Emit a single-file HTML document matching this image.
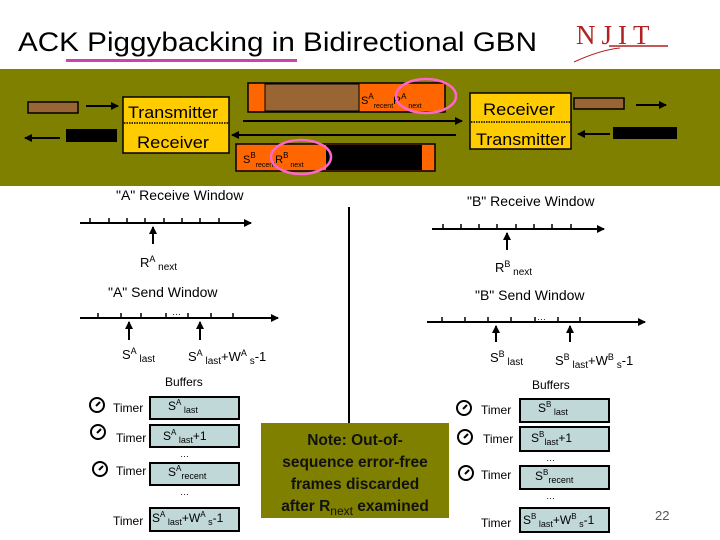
<!DOCTYPE html>
<html><head><meta charset="utf-8"><style>
html,body{margin:0;padding:0;background:#fff;}
svg{display:block;font-family:"Liberation Sans",sans-serif;}
</style></head><body>
<svg width="720" height="540" viewBox="0 0 720 540" xmlns="http://www.w3.org/2000/svg">
<defs>
<marker id="ar" markerWidth="8" markerHeight="8" refX="7" refY="4" orient="auto" markerUnits="userSpaceOnUse"><path d="M0,0 L8,4 L0,8 z" fill="#000"/></marker>
</defs>
<text x="18" y="51" font-size="27" fill="#000" textLength="519" lengthAdjust="spacingAndGlyphs">ACK Piggybacking in Bidirectional GBN</text>
<rect x="66" y="59" width="231" height="3" fill="#cc44aa"/>
<text x="576" y="44" font-family="Liberation Serif,serif" font-size="27" fill="#b22222" letter-spacing="6">NJIT</text>
<line x1="609" y1="46" x2="668" y2="46" stroke="#b22222" stroke-width="1.5"/>
<path d="M574,62 Q600,50 620,48" stroke="#b22222" fill="none" stroke-width="1"/>
<rect x="0" y="69" width="720" height="117" fill="#7f7f00"/>
<rect x="28" y="102" width="50" height="11" fill="#996633" stroke="#000" stroke-width="1.5"/>
<line x1="86" y1="106" x2="118" y2="106" stroke="#000" stroke-width="2" marker-end="url(#ar)"/>
<rect x="66" y="129" width="51" height="13" fill="#000"/>
<line x1="60" y1="138" x2="25" y2="138" stroke="#000" stroke-width="2" marker-end="url(#ar)"/>
<rect x="123" y="97" width="106" height="56" fill="#ffcc00" stroke="#000" stroke-width="1.5"/>
<line x1="124" y1="123" x2="228" y2="123" stroke="#000" stroke-width="1.5" stroke-dasharray="1.5,1"/>
<text x="128" y="118" font-size="17" fill="#000" textLength="90" lengthAdjust="spacingAndGlyphs">Transmitter</text>
<text x="137" y="148" font-size="17" fill="#000" textLength="72" lengthAdjust="spacingAndGlyphs">Receiver</text>
<rect x="248" y="83" width="197" height="29" fill="#ff6600" stroke="#000" stroke-width="1.5"/>
<rect x="265" y="84" width="94" height="27" fill="#996633" stroke="#000" stroke-width="1"/>
<text x="361" y="104" font-size="11" fill="#000">S<tspan font-size="8" dy="-5">A</tspan><tspan font-size="7" dy="9">recent</tspan><tspan font-size="11" dy="-4">R</tspan><tspan font-size="8" dy="-5">A</tspan><tspan font-size="7" dy="9"> next</tspan></text>
<ellipse cx="426" cy="96" rx="30" ry="17" fill="none" stroke="#ff66cc" stroke-width="2.5"/>
<line x1="243" y1="121" x2="462" y2="121" stroke="#000" stroke-width="2" marker-end="url(#ar)"/>
<line x1="456" y1="135" x2="232" y2="135" stroke="#000" stroke-width="2" marker-end="url(#ar)"/>
<rect x="236" y="144" width="199" height="27" fill="#ff6600" stroke="#000" stroke-width="1.5"/>
<rect x="326" y="145" width="96" height="25" fill="#000"/>
<text x="243" y="163" font-size="11" fill="#000">S<tspan font-size="8" dy="-5">B</tspan><tspan font-size="7" dy="9">recent</tspan><tspan font-size="11" dy="-4">R</tspan><tspan font-size="8" dy="-5">B</tspan><tspan font-size="7" dy="9"> next</tspan></text>
<ellipse cx="301" cy="157" rx="30" ry="17" fill="none" stroke="#ff66cc" stroke-width="2.5"/>
<rect x="470" y="93" width="101" height="56" fill="#ffcc00" stroke="#000" stroke-width="1.5"/>
<line x1="471" y1="122" x2="570" y2="122" stroke="#000" stroke-width="1.5" stroke-dasharray="1.5,1"/>
<text x="483" y="115" font-size="17" fill="#000" textLength="72" lengthAdjust="spacingAndGlyphs">Receiver</text>
<text x="476" y="145" font-size="17" fill="#000" textLength="90" lengthAdjust="spacingAndGlyphs">Transmitter</text>
<rect x="574" y="98" width="50" height="11" fill="#996633" stroke="#000" stroke-width="1.5"/>
<line x1="636" y1="105" x2="666" y2="105" stroke="#000" stroke-width="2" marker-end="url(#ar)"/>
<line x1="610" y1="134" x2="578" y2="134" stroke="#000" stroke-width="2" marker-end="url(#ar)"/>
<rect x="613" y="127" width="64" height="12" fill="#000"/>
<g font-size="14" fill="#000">
<text x="116" y="200">"A" Receive Window</text>
<text x="108" y="297">"A" Send Window</text>
<text x="467" y="206">"B" Receive Window</text>
<text x="475" y="300">"B" Send Window</text>
</g>
<g stroke="#000" stroke-width="2">
<line x1="80" y1="223" x2="251" y2="223" marker-end="url(#ar)"/>
<path d="M90,223v-5M109,223v-5M127,223v-5M145,223v-5M164,223v-5M182,223v-5M200,223v-5M219,223v-5" stroke-width="1.5"/>
<line x1="153" y1="244" x2="153" y2="227" marker-end="url(#ar)"/>
<line x1="80" y1="318" x2="278" y2="318" marker-end="url(#ar)"/>
<path d="M98,318v-5M121,318v-5M141,318v-5M166,318v-5M188,318v-5M211,318v-5M233,318v-5" stroke-width="1.5"/>
<line x1="129" y1="340" x2="129" y2="322" marker-end="url(#ar)"/>
<line x1="200" y1="340" x2="200" y2="322" marker-end="url(#ar)"/>
<line x1="432" y1="229" x2="604" y2="229" marker-end="url(#ar)"/>
<path d="M443,229v-5M461,229v-5M479,229v-5M497,229v-5M516,229v-5M534,229v-5M552,229v-5M571,229v-5" stroke-width="1.5"/>
<line x1="507" y1="250" x2="507" y2="233" marker-end="url(#ar)"/>
<line x1="427" y1="322" x2="645" y2="322" marker-end="url(#ar)"/>
<path d="M442,322v-5M465,322v-5M488,322v-5M511,322v-5M535,322v-5M558,322v-5M580,322v-5" stroke-width="1.5"/>
<line x1="496" y1="342" x2="496" y2="326" marker-end="url(#ar)"/>
<line x1="570" y1="342" x2="570" y2="326" marker-end="url(#ar)"/>
<line x1="349" y1="207" x2="349" y2="424"/>
</g>
<g font-size="13" fill="#000">
<text x="172" y="315" font-size="9">…</text>
<text x="537" y="320" font-size="9">…</text>
<text x="140" y="267">R<tspan font-size="9" dy="-5">A</tspan><tspan font-size="10" dy="8"> next</tspan></text>
<text x="495" y="272">R<tspan font-size="9" dy="-5">B</tspan><tspan font-size="10" dy="8"> next</tspan></text>
<text x="122" y="359">S<tspan font-size="9" dy="-5">A</tspan><tspan font-size="10" dy="8"> last</tspan></text>
<text x="188" y="361">S<tspan font-size="9" dy="-5">A</tspan><tspan font-size="10" dy="8"> last</tspan><tspan dy="-3">+W</tspan><tspan font-size="9" dy="-5">A</tspan><tspan font-size="10" dy="8"> s</tspan><tspan dy="-3">-1</tspan></text>
<text x="490" y="362">S<tspan font-size="9" dy="-5">B</tspan><tspan font-size="10" dy="8"> last</tspan></text>
<text x="555" y="365">S<tspan font-size="9" dy="-5">B</tspan><tspan font-size="10" dy="8"> last</tspan><tspan dy="-3">+W</tspan><tspan font-size="9" dy="-5">B</tspan><tspan font-size="10" dy="8"> s</tspan><tspan dy="-3">-1</tspan></text>
<text x="165" y="386" font-size="12">Buffers</text>
<text x="532" y="389" font-size="12">Buffers</text>
</g>
<g fill="#c0d8d8" stroke="#000" stroke-width="2">
<rect x="150" y="397" width="89" height="22"/><rect x="150" y="425" width="89" height="22"/>
<rect x="150" y="463" width="89" height="22"/><rect x="150" y="508" width="89" height="23"/>
<rect x="520" y="399" width="89" height="23"/><rect x="520" y="427" width="89" height="24"/>
<rect x="520" y="466" width="89" height="23"/><rect x="520" y="508" width="89" height="24"/>
</g>
<g font-size="12" fill="#000">
<text x="113" y="412">Timer</text><text x="116" y="442">Timer</text><text x="116" y="475">Timer</text><text x="113" y="525">Timer</text>
<text x="481" y="414">Timer</text><text x="483" y="443">Timer</text><text x="481" y="479">Timer</text><text x="481" y="527">Timer</text>
<text x="168" y="410">S<tspan font-size="8" dy="-5">A</tspan><tspan font-size="9" dy="8"> last</tspan></text>
<text x="163" y="440">S<tspan font-size="8" dy="-5">A</tspan><tspan font-size="9" dy="8"> last</tspan><tspan dy="-3">+1</tspan></text>
<text x="168" y="476">S<tspan font-size="8" dy="-5">A</tspan><tspan font-size="9" dy="8">recent</tspan></text>
<text x="152" y="522">S<tspan font-size="8" dy="-5">A</tspan><tspan font-size="9" dy="8"> last</tspan><tspan dy="-3">+W</tspan><tspan font-size="8" dy="-5">A</tspan><tspan font-size="9" dy="8"> s</tspan><tspan dy="-3">-1</tspan></text>
<text x="538" y="412">S<tspan font-size="8" dy="-5">B</tspan><tspan font-size="9" dy="8"> last</tspan></text>
<text x="531" y="442">S<tspan font-size="8" dy="-5">B</tspan><tspan font-size="9" dy="8">last</tspan><tspan dy="-3">+1</tspan></text>
<text x="535" y="480">S<tspan font-size="8" dy="-5">B</tspan><tspan font-size="9" dy="8">recent</tspan></text>
<text x="523" y="524">S<tspan font-size="8" dy="-5">B</tspan><tspan font-size="9" dy="8"> last</tspan><tspan dy="-3">+W</tspan><tspan font-size="8" dy="-5">B</tspan><tspan font-size="9" dy="8"> s</tspan><tspan dy="-3">-1</tspan></text>
<text x="180" y="457" font-size="9">…</text><text x="180" y="495" font-size="9">…</text>
<text x="546" y="461" font-size="9">…</text><text x="546" y="499" font-size="9">…</text>
</g>
<g fill="none" stroke="#000" stroke-width="2">
<circle cx="97" cy="405" r="7"/><circle cx="98" cy="432" r="7"/><circle cx="100" cy="469" r="7"/>
<circle cx="464" cy="408" r="7"/><circle cx="465" cy="437" r="7"/><circle cx="466" cy="473" r="7"/>
<path d="M96,406l4,-4M97,433l4,-4M99,470l4,-4M463,409l4,-4M464,438l4,-4M465,474l4,-4"/>
</g>
<rect x="261" y="423" width="188" height="95" fill="#7f7f00"/>
<g font-size="15.5" font-weight="bold" fill="#111" text-anchor="middle">
<text x="355" y="445">Note:  Out-of-</text>
<text x="355" y="467">sequence error-free</text>
<text x="355" y="489">frames discarded</text>
<text x="355" y="511">after R<tspan font-size="12" font-weight="normal" dy="4">next</tspan><tspan dy="-4"> examined</tspan></text>
</g>
<text x="655" y="520" font-size="13" fill="#555">22</text>
</svg>
</body></html>
